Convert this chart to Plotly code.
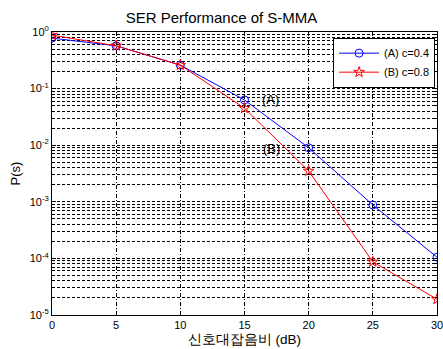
import plotly.graph_objects as go

snr_db = [0, 5, 10, 15, 20, 25, 30]
ser_a = [0.78, 0.57, 0.26, 0.063, 0.009, 0.00088, 0.000105]
ser_b = [0.88, 0.57, 0.26, 0.045, 0.0035, 0.000087, 0.000019]
y_tick_vals = [1e-5, 1e-4, 1e-3, 1e-2, 1e-1, 1]
y_tick_text = ["10<sup>-5</sup>", "10<sup>-4</sup>", "10<sup>-3</sup>", "10<sup>-2</sup>", "10<sup>-1</sup>", "10<sup>0</sup>"]
minor_vals = [m * 10.0 ** e for e in range(-5, 0) for m in range(2, 10)]
x_tick_vals = [0, 5, 10, 15, 20, 25, 30]

font_family = "Liberation Sans, Arial, sans-serif"

fig = go.Figure()
fig.add_trace(go.Scatter(
    x=snr_db, y=ser_a, mode="lines+markers", name="(A) c=0.4",
    line=dict(color="blue", width=1),
    marker=dict(symbol="circle-open", size=8, color="blue", line=dict(width=1)),
))
fig.add_trace(go.Scatter(
    x=snr_db, y=ser_b, mode="lines+markers", name="(B) c=0.8",
    line=dict(color="red", width=1),
    marker=dict(symbol="star-open", size=8, color="red", line=dict(width=1)),
))

fig.add_annotation(x=17.05, y=-1.2, xref="x", yref="y", text="(A)", showarrow=False,
                   font=dict(size=13, color="black", family=font_family))
fig.add_annotation(x=17.1, y=-2.05, xref="x", yref="y", text="(B)", showarrow=False,
                   font=dict(size=13, color="black", family=font_family))

fig.update_layout(
    width=443, height=349,
    margin=dict(l=52, r=6, t=32, b=34),
    paper_bgcolor="white", plot_bgcolor="white",
    font=dict(family=font_family, size=11, color="black"),
    title=dict(text="SER Performance of S-MMA", x=0.5, xanchor="center", y=0.948, yanchor="middle",
               font=dict(size=15, color="black")),
    showlegend=True,
    legend=dict(x=0.995, y=0.98, xanchor="right", yanchor="top", bgcolor="white",
                bordercolor="black", borderwidth=1, font=dict(size=11),
                tracegroupgap=0, itemwidth=40),
)
fig.update_xaxes(
    range=[-0.0001, 30.0001], tickvals=x_tick_vals, ticks="inside", ticklen=4, tickcolor="black",
    showline=True, linecolor="black", linewidth=1, mirror="ticks", automargin=False,
    showgrid=True, gridcolor="black", gridwidth=1, griddash="4px,2px,1px,2px", zeroline=False,
    title=dict(text="신호대잡음비 (dB)", font=dict(size=13.5), standoff=4),
    tickfont=dict(size=11), ticklabeloverflow="allow",
)
fig.update_yaxes(
    type="log", range=[-5, 0], tickvals=y_tick_vals, ticktext=y_tick_text,
    ticks="inside", ticklen=4, tickcolor="black", automargin=False,
    showline=True, linecolor="black", linewidth=1, mirror="ticks",
    showgrid=True, gridcolor="black", gridwidth=1, griddash="3px,2px", zeroline=False,
    minor=dict(tickvals=minor_vals, showgrid=True, gridcolor="black", gridwidth=1,
               griddash="3px,2px", ticks="inside", ticklen=2, tickcolor="black"),
    title=dict(text="P(s)", font=dict(size=13), standoff=6),
    tickfont=dict(size=11),
)

fig.write_html("out.html", config={"displayModeBar": False},
               post_script="document.body.style.margin='0';document.body.style.overflow='hidden';")
